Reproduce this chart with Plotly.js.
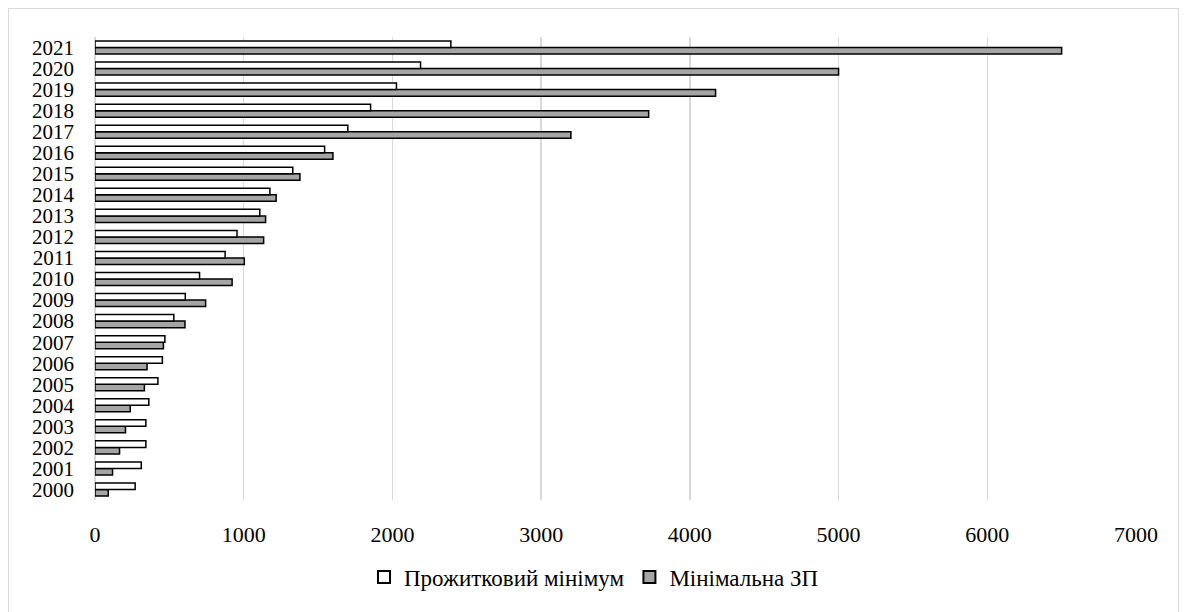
<!DOCTYPE html>
<html>
<head>
<meta charset="utf-8">
<script src="https://cdn.plot.ly/plotly-3.0.1.min.js"></script>
<style>
  html, body { margin: 0; padding: 0; background: #fff; }
  #wrap { position: relative; width: 1188px; height: 612px; overflow: hidden; }
  #frame { position: absolute; left: 8px; top: 8px; width: 1171px; height: 620px; border: 1px solid #d9d9d9; box-sizing: border-box; pointer-events: none; }
  #chart { position: absolute; left: 0; top: 0; width: 1188px; height: 612px; }
</style>
</head>
<body>
<div id="wrap">
  <div id="chart"></div>
  <div id="frame"></div>
</div>
<script>
const years = ["2000","2001","2002","2003","2004","2005","2006","2007","2008","2009","2010",
               "2011","2012","2013","2014","2015","2016","2017","2018","2019","2020","2021"];
const subsistenceMinimum = [270, 311, 342, 342, 362, 423, 453, 470, 530, 607, 703,
                            875, 955, 1108, 1176, 1330, 1544, 1700, 1853, 2027, 2189, 2393];
const minimumWage = [89, 118, 165, 205, 237, 332, 350, 460, 605, 744, 922,
                     1004, 1134, 1147, 1218, 1378, 1600, 3200, 3723, 4173, 5000, 6500];
const seriesNames = ["Прожитковий мінімум", "Мінімальна ЗП"];
const xTicks = [0, 1000, 2000, 3000, 4000, 5000, 6000, 7000];

const fontFam = "Liberation Serif, Times New Roman, serif";

const traces = [
  {
    type: "bar", orientation: "h", name: seriesNames[1],
    y: years, x: minimumWage,
    marker: { color: "#a5a5a5", line: { color: "#000000", width: 1.5 } },
    hoverinfo: "x+y"
  },
  {
    type: "bar", orientation: "h", name: seriesNames[0],
    y: years, x: subsistenceMinimum,
    marker: { color: "#ffffff", line: { color: "#000000", width: 1.5 } },
    hoverinfo: "x+y"
  }
];

const layout = {
  width: 1188, height: 612,
  margin: { l: 95, r: 52, t: 37, b: 112 },
  paper_bgcolor: "rgba(0,0,0,0)", plot_bgcolor: "#ffffff",
  font: { family: fontFam, size: 22, color: "#000000" },
  barmode: "group",
  bargap: 0.38,
  bargroupgap: 0,
  showlegend: true,
  legend: {
    orientation: "h", traceorder: "reversed",
    x: 0.5, xanchor: "center", xref: "container",
    y: 0.057, yanchor: "middle", yref: "container",
    font: { family: fontFam, size: 23, color: "#000" },
    itemsizing: "constant", itemwidth: 30
  },
  xaxis: {
    range: [0, 7000], tickvals: xTicks, ticktext: xTicks.map(String),
    showgrid: true, gridcolor: "#d9d9d9", gridwidth: 1.5,
    zeroline: true, zerolinecolor: "#d9d9d9", zerolinewidth: 1.5,
    showline: false, ticks: "", ticklabelstandoff: 19,
    tickfont: { family: fontFam, size: 22, color: "#000" },
    fixedrange: true
  },
  yaxis: {
    type: "category", categoryorder: "array", categoryarray: years,
    tickmode: "array", tickvals: years, ticktext: years,
    showgrid: false, zeroline: false, showline: false, ticks: "",
    ticklabelstandoff: 20,
    tickfont: { family: fontFam, size: 21, color: "#000" },
    fixedrange: true
  }
};

Plotly.newPlot("chart", traces, layout, { displayModeBar: false, staticPlot: true });
</script>
</body>
</html>
